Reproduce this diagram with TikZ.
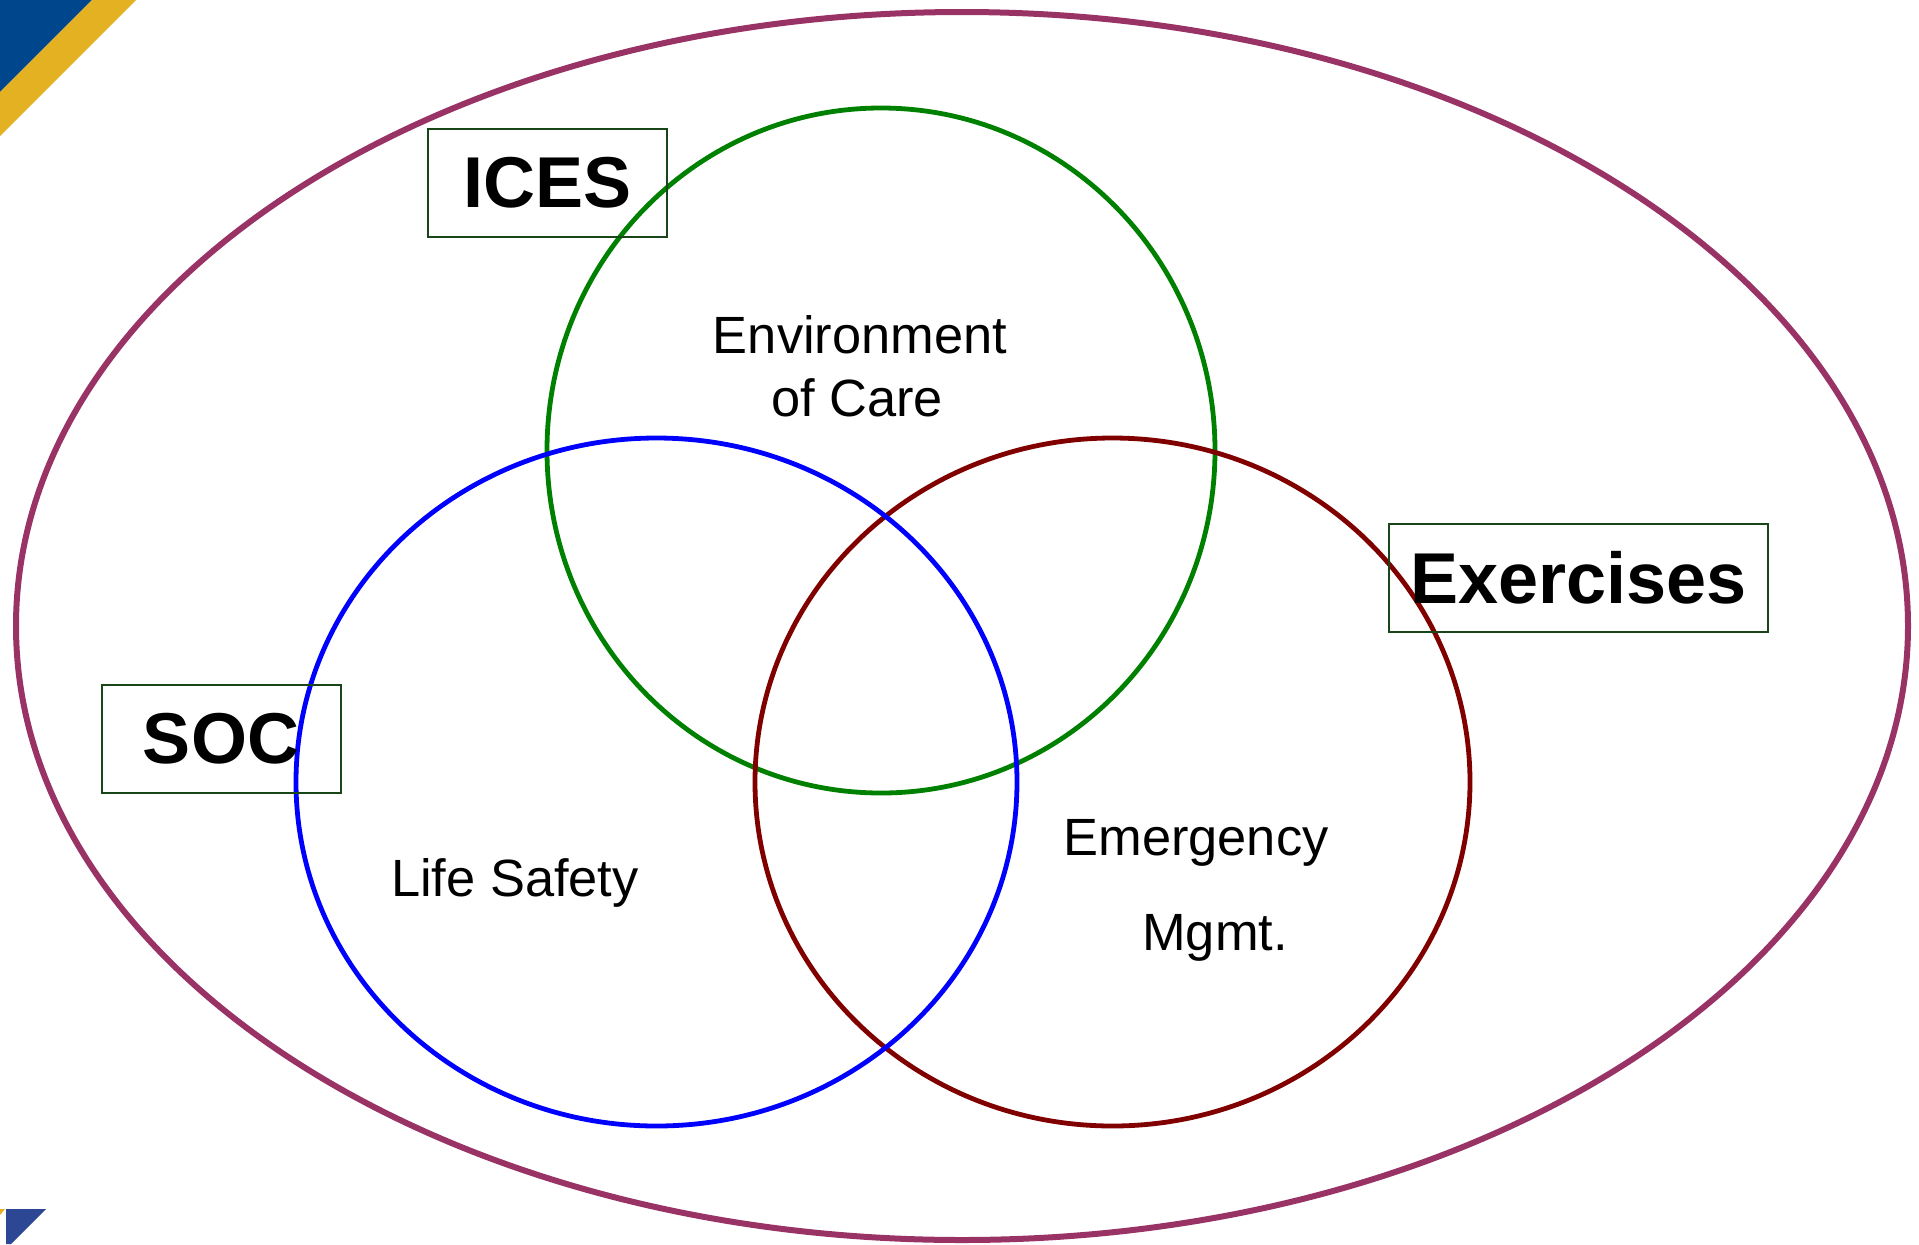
\documentclass[tikz,border=0pt]{standalone}
\usepackage{fontspec}
\setmainfont{Liberation Sans}
\definecolor{rim}{RGB}{153,51,102}
\definecolor{coin}{RGB}{0,70,140}
\definecolor{coinb}{RGB}{44,72,148}
\definecolor{band}{RGB}{227,177,33}
\definecolor{boxline}{RGB}{25,70,25}
\definecolor{emred}{RGB}{128,0,0}
\definecolor{ecgreen}{RGB}{0,128,0}
\begin{document}
\begin{tikzpicture}[x=0.5pt,y=-0.5pt]
  \pgfmathsetmacro{\lw}{2.4}
  \pgfmathsetmacro{\rimw}{3}
  \tikzset{tag/.style={draw=boxline,line width=1pt,minimum width=119.5pt,minimum height=54pt,inner sep=0pt,font=\fontsize{36}{40}\selectfont\bfseries},
    lab/.style={anchor=base,font=\fontsize{26.2}{30}\selectfont}}
  \useasboundingbox (0,0) rectangle (1919,1244);
  % corner marks
  \fill[coin] (0,0) -- (92,0) -- (0,92) -- cycle;
  \fill[band] (92,0) -- (136,0) -- (0,136) -- (0,92) -- cycle;
  \fill[coinb] (6,1209) -- (46,1209) -- (11,1244) -- (6,1244) -- cycle;
  \fill[band] (0,1209) -- (5,1209) -- (0,1215) -- cycle;
  % outer ellipse and circles
  \draw[rim,line width=\rimw pt] (962,626) ellipse [x radius=946, y radius=614];
  \draw[ecgreen,line width=\lw pt] (881,450.5) ellipse [x radius=334, y radius=342.5];
  \draw[emred,line width=\lw pt] (1112.5,782) ellipse [x radius=357.5, y radius=344];
  \draw[blue,line width=\lw pt] (656.5,782) ellipse [x radius=360.5, y radius=344];
  % boxes
  \node[tag] (ices) at (547.5,183) {ICES};
  \node[tag] (soc) at (221,739) {SOC};
  \node[tag,minimum width=189.5pt] (exer) at (1578.5,578) {Exercises};
  % labels
  \node[lab] (env) at (860,353) {Environment};
  \node[lab] (care) at (857,416) {of Care};
  \node[lab] (life) at (515,896) {Life Safety};
  \node[lab] (emer) at (1196,855) {Emergency};
  \node[lab] (mgmt) at (1215,950) {Mgmt.};
\end{tikzpicture}
\end{document}
